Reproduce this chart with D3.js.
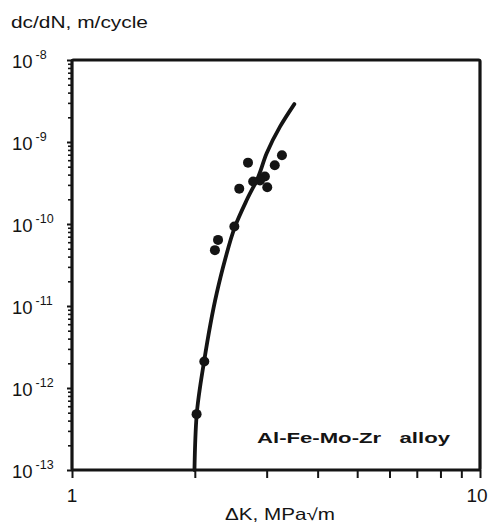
<!DOCTYPE html>
<html><head><meta charset="utf-8">
<script src="https://cdn.jsdelivr.net/npm/d3@7/dist/d3.min.js"></script>
<style>body{margin:0;background:#fff}svg{display:block;font-family:"Liberation Sans",Arial,Helvetica,sans-serif}</style>
</head><body>
<svg id="c" width="493" height="522"></svg>
<script>
// Data
const dataDK = [2.70, 3.27, 3.14, 2.97, 2.89, 2.78, 2.57, 3.01, 2.50, 2.28, 2.24, 2.11, 2.02];
const dataRate = [5.6e-10, 6.9e-10, 5.2e-10, 3.8e-10, 3.4e-10, 3.3e-10, 2.7e-10, 2.8e-10, 9.3e-11, 6.4e-11, 4.8e-11, 2.1e-12, 4.8e-13];
const curveDK = [1.996, 2.021, 2.107, 2.263, 2.371, 2.509, 2.681, 2.862, 3.00, 3.235, 3.507];
const curveRate = [1e-13, 4.7e-13, 2.1e-12, 1.43e-11, 3.64e-11, 9.3e-11, 1.96e-10, 3.78e-10, 7.3e-10, 1.54e-9, 2.9e-9];
const yTickValues = [1e-8, 1e-9, 1e-10, 1e-11, 1e-12, 1e-13];
const yTickExponents = ["-8", "-9", "-10", "-11", "-12", "-13"];
const xTickLabelValues = [1, 10];
const xTickLabels = ["1", "10"];
const annotation = "Al-Fe-Mo-Zr\u00a0\u00a0 alloy";
const yTitle = "dc/dN, m/cycle";
const xTitle = "\u0394K, MPa\u221Am";

const L = 72, R = 480, T = 60, B = 470;
const ink = "#141414";
const svg = d3.select("#c");
const x = d3.scaleLog().domain([1, 10]).range([L, R]);
const y = d3.scaleLog().domain([1e-13, 1e-8]).range([B, T]);

// minor ticks
const yMinor = [];
for (let e = -13; e < -8; e++) for (let m = 2; m <= 9; m++) yMinor.push(m * Math.pow(10, e));
const xMinor = [];
for (let m = 1; m <= 10; m++) xMinor.push(m);

// x axis (bottom)
const xAxis = d3.axisBottom(x).tickValues(xMinor).tickSize(8).tickFormat("");
const gx = svg.append("g").attr("transform", `translate(0,${B})`).call(xAxis);
gx.select(".domain").remove();
gx.selectAll("line").attr("stroke", ink).attr("stroke-width", 2);

// y axis (left)
const gyMinor = svg.append("g").attr("transform", `translate(${L},0)`)
  .call(d3.axisLeft(y).tickValues(yMinor).tickSize(4).tickFormat(""));
gyMinor.select(".domain").remove();
gyMinor.selectAll("line").attr("stroke", ink).attr("stroke-width", 1.6);
const gyMajor = svg.append("g").attr("transform", `translate(${L},0)`)
  .call(d3.axisLeft(y).tickValues(yTickValues).tickSize(5).tickFormat(""));
gyMajor.select(".domain").remove();
gyMajor.selectAll("line").attr("stroke", ink).attr("stroke-width", 2);

// frame
svg.append("rect").attr("x", L).attr("y", T).attr("width", R - L).attr("height", B - T)
  .attr("fill", "none").attr("stroke", ink).attr("stroke-width", 3.2).attr("rx", 1.5);

// y tick labels
yTickValues.forEach((v, i) => {
  const t = svg.append("text").attr("x", 12).attr("y", y(v) + 8).attr("fill", ink);
  t.append("tspan").attr("font-size", 18.5).text("10");
  t.append("tspan").attr("font-size", 12.5).attr("dx", 3).attr("dy", -9.5).text(yTickExponents[i]);
});

// x tick labels
xTickLabelValues.forEach((v, i) => {
  svg.append("text").attr("x", x(v) - (v === 10 ? 3 : 0)).attr("y", 502).attr("text-anchor", "middle")
    .attr("font-size", 19).attr("fill", ink).text(xTickLabels[i]);
});

// titles
svg.append("text").attr("x", 11).attr("y", 28).attr("font-size", 16.5).attr("fill", ink)
  .attr("textLength", 137).attr("lengthAdjust", "spacingAndGlyphs").text(yTitle);
svg.append("text").attr("x", 225).attr("y", 520).attr("font-size", 16.5).attr("fill", ink)
  .attr("textLength", 110).attr("lengthAdjust", "spacingAndGlyphs").text(xTitle);
svg.append("text").attr("x", 257).attr("y", 443).attr("font-size", 15.5).attr("font-weight", "bold").attr("fill", ink)
  .attr("textLength", 193).attr("lengthAdjust", "spacingAndGlyphs").text(annotation);

// fitted curve
const line = d3.line().x(d => x(d[0])).y(d => y(d[1])).curve(d3.curveMonotoneY);
svg.append("path").datum(curveDK.map((d, i) => [d, curveRate[i]]))
  .attr("d", line).attr("fill", "none").attr("stroke", ink).attr("stroke-width", 3.8).attr("stroke-linecap", "round");

// data points
svg.append("g").selectAll("circle").data(dataDK.map((d, i) => [d, dataRate[i]])).join("circle")
  .attr("cx", d => x(d[0])).attr("cy", d => y(d[1])).attr("r", 5).attr("fill", ink);
</script>
</body></html>
